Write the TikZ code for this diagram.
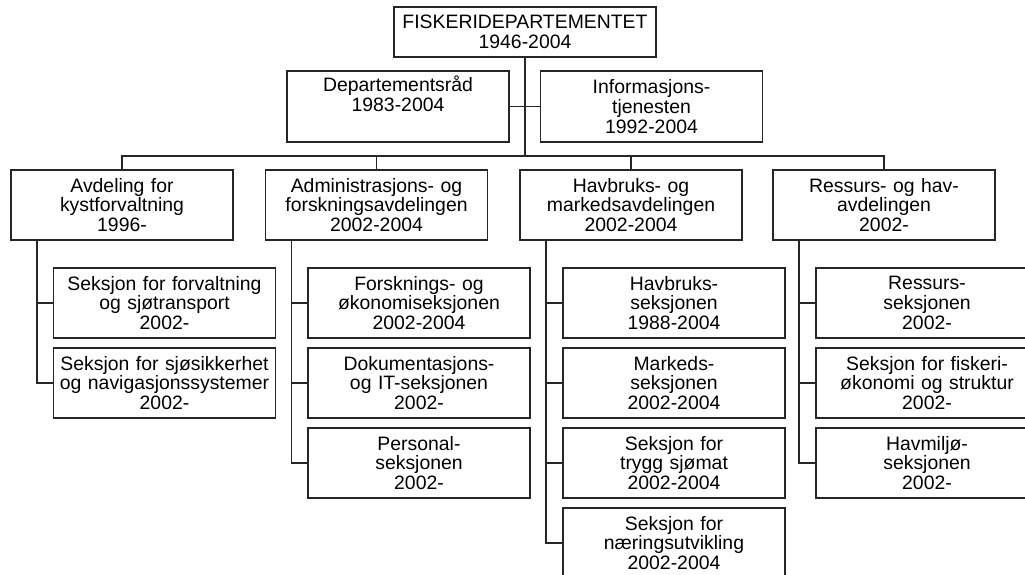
\documentclass[tikz,border=0pt]{standalone}
\usepackage{fontspec}
\setmainfont{Liberation Sans}

\begin{document}
\begin{tikzpicture}[x=1pt,y=-1pt,line width=1.2pt,draw=black!85,
  box/.style={draw,rectangle,align=center,inner sep=0pt,text width=216pt,
    minimum width=222pt,minimum height=70pt,font=\fontsize{19.4}{19.8}\selectfont}]
\useasboundingbox (0,0) rectangle (1025,575);
% top of the tree
\node[box,text width=256pt,minimum width=262pt,minimum height=50pt] (fd) at (525,32) {FISKERIDEPARTEMENTET\\1946-2004};
\node[box,minimum height=71pt] (dep) at (398,106.5) {Departementsråd\\1983-2004\\\strut};
\node[box,minimum height=71pt] (info) at (651.5,106.5) {Informasjons-\\tjenesten\\1992-2004};
\coordinate (bus) at (525,156);
\draw (fd.south) -- (bus);
\draw (dep.east) -- (info.west);
% departments
\foreach \nm/\x/\t in {avd/122/{Avdeling for\\kystforvaltning\\1996-},
    adm/376.5/{Administrasjons- og\\forskningsavdelingen\\2002-2004},
    hav/631/{Havbruks- og\\markedsavdelingen\\2002-2004},
    res/884/{Ressurs- og hav-\\avdelingen\\2002-}} {
  \node[box] (\nm) at (\x,205) {\t};
  \draw (bus) -| (\nm.north);
}
% sections
\foreach \i/\t in {1/{Seksjon for forvaltning\\og sjøtransport\\2002-},
    2/{Seksjon for sjøsikkerhet\\og navigasjonssystemer\\2002-}} {
  \node[box] (avd\i) at (164.5,{223+80*\i}) {\t};
  \draw ([xshift=-85pt]avd.south) |- (avd\i.west);
}
\foreach \i/\t in {1/{Forsknings- og\\økonomiseksjonen\\2002-2004},
    2/{Dokumentasjons-\\og IT-seksjonen\\2002-},
    3/{Personal-\\seksjonen\\2002-}} {
  \node[box] (adm\i) at (419,{223+80*\i}) {\t};
  \draw ([xshift=-85pt]adm.south) |- (adm\i.west);
}
\foreach \i/\t in {1/{Havbruks-\\seksjonen\\1988-2004},
    2/{Markeds-\\seksjonen\\2002-2004},
    3/{Seksjon for\\trygg sjømat\\2002-2004},
    4/{Seksjon for\\næringsutvikling\\2002-2004}} {
  \node[box] (hav\i) at (674,{223+80*\i}) {\t};
  \draw ([xshift=-85pt]hav.south) |- (hav\i.west);
}
\foreach \i/\t in {1/{Ressurs-\\seksjonen\\2002-},
    2/{Seksjon for fiskeri-\\økonomi og struktur\\2002-},
    3/{Havmiljø-\\seksjonen\\2002-}} {
  \node[box] (res\i) at (927,{223+80*\i}) {\t};
  \draw ([xshift=-85pt]res.south) |- (res\i.west);
}
\end{tikzpicture}
\end{document}
